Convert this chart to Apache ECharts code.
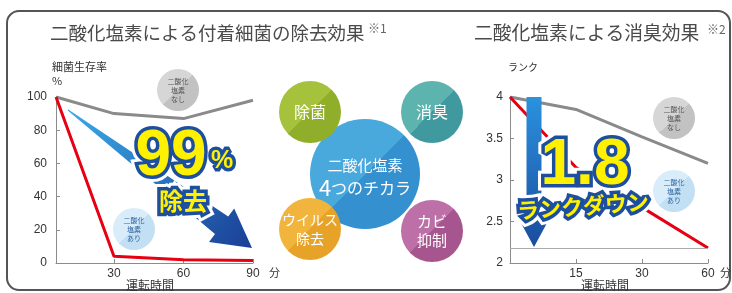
<!DOCTYPE html>
<html>
<head>
<meta charset="utf-8">
<script src="https://cdn.jsdelivr.net/npm/echarts@6/dist/echarts.min.js"></script>
<style>
html,body{margin:0;padding:0;background:#fff;}
#main{width:732px;height:293px;}
</style>
</head>
<body>
<div id="main"></div>
<script>
// 左：付着細菌の生存率（%）
var bacteriaTime = [5, 30, 60, 90];
var bacteriaNone = [100, 90, 87, 98];   // 二酸化塩素なし
var bacteriaWith = [100, 4, 2, 1.5];    // 二酸化塩素あり
var bacteriaXTicks = [30, 60, 90];

// 右：臭気ランク
var odorTime = ['0', '15', '30', '60'];
var odorNone = [4, 3.85, 3.52, 3.2];
var odorWith = [4, 3.15, 2.67, 2.18];
var odorFloor = 2.18;

var JP = '"Noto Sans CJK JP", sans-serif';
var AXIS = '#8c8c8c';

function pairs(xs, ys) {
	return xs.map(function (x, i) { return [x, ys[i]]; });
}

// 文字
function txt(x, y, s, font, color, align, extra) {
	var el = {
		type: 'text', x: x, y: y, z: 50,
		style: {
			text: s, font: font + ' ' + JP, fill: color,
			textAlign: align || 'left', align: align || 'left',
			textVerticalAlign: 'middle', verticalAlign: 'middle'
		}
	};
	if (extra) {
		for (var k in extra) el.style[k] = extra[k];
	}
	return el;
}

// 斜めに色が分かれた丸
function split(c1, c2) {
	return new echarts.graphic.LinearGradient(0, 0, 1, 1, [
		{offset: 0, color: c1}, {offset: 0.5, color: c1},
		{offset: 0.5, color: c2}, {offset: 1, color: c2}
	]);
}
function disc(cx, cy, r, c1, c2, z) {
	return {type: 'circle', z: z || 1, shape: {cx: cx, cy: cy, r: r}, style: {fill: split(c1, c2)}};
}

// 黄色＋青ふち＋白ふちの文字
function pop(x, y, s, font, rot) {
	var layers = [
		{fill: '#fff', stroke: '#fff', lineWidth: 13},
		{fill: '#1d4f9e', stroke: '#1d4f9e', lineWidth: 7},
		{fill: '#fff100', stroke: null, lineWidth: 0}
	];
	return layers.map(function (l, i) {
		return {
			type: 'text', x: x, y: y, rotation: rot || 0, z: 60 + i,
			style: {
				text: s, font: font, fill: l.fill, stroke: l.stroke, lineWidth: l.lineWidth,
				lineJoin: 'round', textAlign: 'center', align: 'center',
				textVerticalAlign: 'middle', verticalAlign: 'middle'
			}
		};
	});
}

// 矢印（多角形）
function arrow(tx, ty, px, py, tailHalf, shaftHalf, headHalf, headLen, fill) {
	var dx = px - tx, dy = py - ty, len = Math.sqrt(dx * dx + dy * dy);
	var ux = dx / len, uy = dy / len, nx = -uy, ny = ux;
	var bx = px - ux * headLen, by = py - uy * headLen;
	var pts = [
		[tx + nx * tailHalf, ty + ny * tailHalf],
		[bx + nx * shaftHalf, by + ny * shaftHalf],
		[bx + nx * headHalf, by + ny * headHalf],
		[px, py],
		[bx - nx * headHalf, by - ny * headHalf],
		[bx - nx * shaftHalf, by - ny * shaftHalf],
		[tx - nx * tailHalf, ty - ny * tailHalf]
	];
	return {type: 'polygon', z: 5, shape: {points: pts}, style: {fill: fill}};
}

function badge(cx, cy, kind) {
	var gray = kind === 'none';
	return [
		disc(cx, cy, 21, gray ? '#d6d6d6' : '#d9ecf9', gray ? '#c2c2c2' : '#c2dff3', 6),
		txt(cx, cy, gray ? '二酸化\n塩素\nなし' : '二酸化\n塩素\nあり', '7px', gray ? '#555' : '#2c64a0', 'center', {lineHeight: 9})
	];
}

var graphics = [];
// 外枠
graphics.push({type: 'rect', z: 0, shape: {x: 7, y: 11, width: 723, height: 279, r: 12}, style: {fill: 'none', stroke: '#555', lineWidth: 2}});

// タイトル
graphics.push(txt(50, 33, '二酸化塩素による付着細菌の除去効果', '18.5px', '#4a4a4a'));
graphics.push(txt(368, 28, '※1', '12px', '#666'));
graphics.push(txt(474, 33, '二酸化塩素による消臭効果', '18.8px', '#4a4a4a'));
graphics.push(txt(707, 29, '※2', '12px', '#666'));

// 軸の名前
graphics.push(txt(52, 67, '細菌生存率', '11px', '#333'));
graphics.push(txt(52, 81, '%', '11px', '#333'));
graphics.push(txt(150, 285, '運転時間', '12px', '#333', 'center'));
graphics.push(txt(269, 273, '分', '11px', '#333'));
graphics.push(txt(508, 67, 'ランク', '10px', '#333'));
graphics.push(txt(605, 285, '運転時間', '12px', '#333', 'center'));
graphics.push(txt(720, 273, '分', '11px', '#333'));

// 左：矢印と 99% 除去
graphics.push(arrow(68, 110, 252, 248, 0.5, 11, 21, 38,
	new echarts.graphic.LinearGradient(0, 0, 1, 1, [{offset: 0, color: '#3aabe8'}, {offset: 1, color: '#1a3e96'}])));
graphics = graphics.concat(badge(178, 90, 'none'), badge(134, 229, 'with'));
graphics = graphics.concat(pop(171, 157, '99', 'bold 64px "Liberation Sans"'));
graphics = graphics.concat(pop(222, 161, '%', 'bold 25px "Liberation Sans"'));
graphics = graphics.concat(pop(183, 201, '除去', 'bold 24px ' + JP));

// 中央：4つのチカラ
graphics.push(disc(365, 174, 55, '#4aa9dc', '#3490cf', 2));
graphics.push(disc(310, 112, 31, '#a6c23c', '#90ae2a', 3));
graphics.push(disc(432, 112, 31, '#5db3ae', '#40999e', 3));
graphics.push(disc(310, 229, 31, '#f1b53e', '#e7a328', 3));
graphics.push(disc(432, 231, 31, '#bc70a7', '#a6558f', 3));
graphics.push(txt(310, 112, '除菌', '16px', '#fff', 'center'));
graphics.push(txt(432, 112, '消臭', '16px', '#fff', 'center'));
graphics.push(txt(310, 229, 'ウイルス\n除去', '14px', '#fff', 'center', {lineHeight: 19}));
graphics.push(txt(432, 231, 'カビ\n抑制', '15px', '#fff', 'center', {lineHeight: 19}));
graphics.push(txt(365, 165, '二酸化塩素', '15px', '#fff', 'center'));
graphics.push({
	type: 'text', x: 365, y: 188, z: 50,
	style: {
		text: '{a|4}{b|つのチカラ}', textAlign: 'center', align: 'center',
		textVerticalAlign: 'middle', verticalAlign: 'middle',
		rich: {
			a: {fontSize: 22, fontFamily: JP, fill: '#fff', color: '#fff'},
			b: {fontSize: 16, fontFamily: JP, fill: '#fff', color: '#fff'}
		}
	}
});

// 右：下向き矢印と 1.8 ランクダウン
graphics.push(arrow(534, 97, 534, 247, 7.5, 7.5, 13, 24,
	new echarts.graphic.LinearGradient(0, 0, 0, 1, [{offset: 0, color: '#2a92de'}, {offset: 1, color: '#1b4c9e'}])));
graphics = graphics.concat(badge(674, 118, 'none'), badge(674, 191, 'with'));
graphics = graphics.concat(pop(585, 166, '1.8', 'bold 64px "Liberation Sans"'));
graphics = graphics.concat(pop(583, 206, 'ランクダウン', 'bold 22px ' + JP, 0.07));

var chart = echarts.init(document.getElementById('main'));

function valueAxisBase() {
	return {
		axisLine: {show: true, lineStyle: {color: AXIS, width: 1}},
		axisTick: {show: true, inside: true, length: 4, lineStyle: {color: AXIS}},
		splitLine: {show: false},
		axisLabel: {color: '#333', fontSize: 12, fontFamily: '"Liberation Sans", sans-serif'}
	};
}

var xLeft = valueAxisBase();
xLeft.gridIndex = 0; xLeft.type = 'value'; xLeft.min = 5; xLeft.max = 90;
xLeft.axisTick.customValues = bacteriaXTicks;
xLeft.axisLabel.customValues = bacteriaXTicks;
xLeft.axisLabel.margin = 5;

var xRight = valueAxisBase();
xRight.gridIndex = 1; xRight.type = 'category'; xRight.boundaryGap = false; xRight.data = odorTime;
xRight.axisTick.interval = function (i) { return i > 0; };
xRight.axisLabel.interval = 0;
xRight.axisLabel.margin = 5;
xRight.axisLabel.formatter = function (v) { return v === '0' ? '' : v; };

var yLeft = valueAxisBase();
yLeft.gridIndex = 0; yLeft.type = 'value'; yLeft.min = 0; yLeft.max = 100; yLeft.interval = 20;
yLeft.axisLabel.margin = 9;

var yRight = valueAxisBase();
yRight.gridIndex = 1; yRight.type = 'value'; yRight.min = 2; yRight.max = 4; yRight.interval = 0.5;
yRight.axisLabel.margin = 7;

chart.setOption({
	animation: false,
	backgroundColor: '#fff',
	textStyle: {fontFamily: JP},
	grid: [
		{left: 56, top: 97, width: 197, height: 166},
		{left: 510, top: 97, width: 198, height: 166}
	],
	xAxis: [xLeft, xRight],
	yAxis: [yLeft, yRight],
	series: [
		{type: 'line', xAxisIndex: 0, yAxisIndex: 0, data: pairs(bacteriaTime, bacteriaNone), symbol: 'none', z: 3,
			lineStyle: {color: '#8a8a8a', width: 3}},
		{type: 'line', xAxisIndex: 0, yAxisIndex: 0, data: pairs(bacteriaTime, bacteriaWith), symbol: 'none', z: 4,
			lineStyle: {color: '#e60012', width: 3}},
		{type: 'line', xAxisIndex: 1, yAxisIndex: 1, data: odorNone, symbol: 'none', z: 3,
			lineStyle: {color: '#8a8a8a', width: 3}},
		{type: 'line', xAxisIndex: 1, yAxisIndex: 1, data: odorWith, symbol: 'none', z: 4,
			lineStyle: {color: '#e60012', width: 3},
			markLine: {silent: true, symbol: 'none', label: {show: false},
				lineStyle: {color: '#aaa', width: 1, type: 'solid'},
				data: [{yAxis: odorFloor}]}}
	],
	graphic: graphics
});
</script>
</body>
</html>
